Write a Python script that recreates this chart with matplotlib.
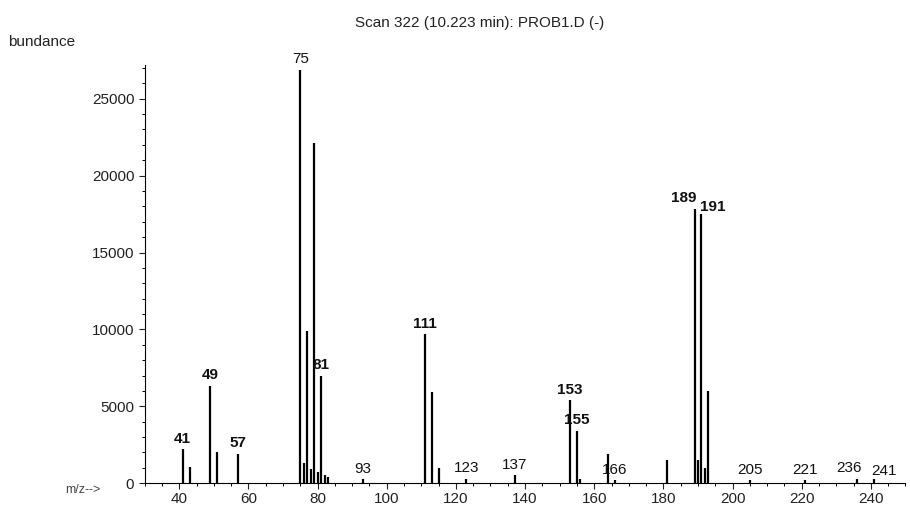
import matplotlib
matplotlib.use("Agg")
import matplotlib.pyplot as plt
import matplotlib.ticker as mticker

plt.rcParams['font.family'] = ['Liberation Sans', 'DejaVu Sans']

# mass spectrum, scan 322
mz = [41, 43, 49, 51, 57, 76, 75, 77, 78, 79, 80, 81, 82, 83, 93,
      111, 113, 115, 123, 137, 153, 155, 156, 164, 166, 181,
      189, 190, 191, 192, 193, 205, 221, 236, 241]
abundance = [2200, 1050, 6350, 2000, 1900, 1300, 26900, 9900, 900, 22100, 700, 7000, 500, 400, 250,
             9700, 5900, 1000, 300, 500, 5400, 3400, 300, 1900, 200, 1500,
             17800, 1500, 17500, 1000, 6000, 200, 200, 300, 250]

# labelled peaks
labels = [41, 49, 57, 75, 81, 93, 111, 123, 137, 153, 155, 166, 189, 191, 205, 221, 236, 241]
bold_labels = [41, 49, 57, 81, 111, 153, 155, 189, 191]

# crowded labels get pushed sideways a bit (points)
nudge = {189: (-8, 3), 191: (8, 0), 236: (-6, 2.5), 241: (7, 1)}

fig = plt.figure(figsize=(9.1, 5.07), dpi=100)
ax = fig.add_axes([0.159, 0.047, 0.836, 0.825])

ax.vlines(mz, 0, abundance, color='black', linewidth=1.6)

lookup = dict(zip(mz, abundance))
for m in labels:
    ax.annotate(str(m), (m, lookup[m]), xytext=nudge.get(m, (0, 2.5)), textcoords='offset points',
                ha='center', va='bottom', fontsize=11,
                fontweight='bold' if m in bold_labels else 'normal', color='#111111')

ax.set_xlim(30, 250)
ax.set_ylim(0, 27200)
ax.xaxis.set_major_locator(mticker.MultipleLocator(20))
ax.xaxis.set_minor_locator(mticker.MultipleLocator(5))
ax.yaxis.set_major_locator(mticker.MultipleLocator(5000))
ax.yaxis.set_minor_locator(mticker.MultipleLocator(1000))
ax.set_xticks(range(40, 241, 20))

for s in ['top', 'right']:
    ax.spines[s].set_visible(False)
ax.spines['left'].set_linewidth(0.8)
ax.spines['bottom'].set_linewidth(0.8)
ax.tick_params(axis='both', which='major', direction='out', length=4, width=0.8, labelsize=11, colors='#222222')
ax.tick_params(axis='both', which='minor', direction='out', length=2, width=0.7)
ax.tick_params(axis='x', pad=2)

fig.text(0.527, 0.955, 'Scan 322 (10.223 min): PROB1.D (-)', ha='center', va='center', fontsize=11, color='#222222')
fig.text(0.009, 0.918, 'bundance', ha='left', va='center', fontsize=11, color='#222222')
fig.text(0.072, 0.034, 'm/z-->', ha='left', va='center', fontsize=9, color='#444444')

fig.savefig('out.png', dpi=100)
